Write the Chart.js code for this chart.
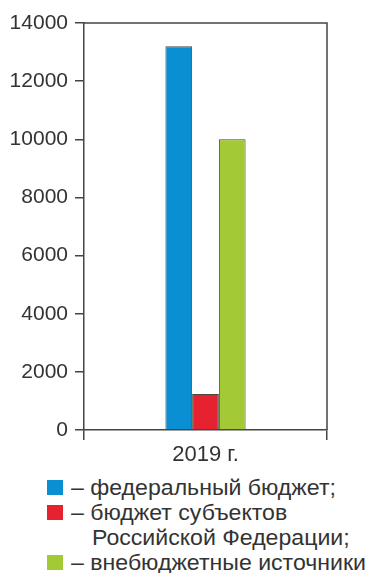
<!DOCTYPE html>
<html>
<head>
<meta charset="utf-8">
<script src="https://cdn.jsdelivr.net/npm/chart.js@4"></script>
<style>
  html, body { margin: 0; padding: 0; background: #fff; }
  #wrap { position: relative; width: 367px; height: 573px; overflow: hidden; background: #fff; }
  #box { position: absolute; left: 0; top: 0; width: 367px; height: 470px; }
  #legend { position: absolute; left: 0; top: 475px; width: 440px;
    font-family: 'Liberation Sans', Arial, sans-serif; font-size: 22px; line-height: 25px; color: #333; }
  .row { position: relative; padding-left: 71px; white-space: nowrap; height: 25px; }
  .row.cont { padding-left: 92px; }
  .row .t { display: inline-block; transform: scaleX(1.05); transform-origin: 0 50%; }
  .sw { position: absolute; left: 47px; top: 5px; width: 16px; height: 15px; }
</style>
</head>
<body>
<div id="wrap">
  <div id="box"><canvas id="c"></canvas></div>
  <div id="legend"></div>
</div>
<script>
// Funding sources, 2019
const categories = ['2019 г.'];
const federalBudget = [13200];
const regionalBudget = [1240];
const extraBudgetary = [10000];
const yTicks = [0, 2000, 4000, 6000, 8000, 10000, 12000, 14000];

const seriesNames = ['– федеральный бюджет;', '– бюджет субъектов', '– внебюджетные источники'];
const colors = ['#0b8fd3', '#e62230', '#a3c935'];

// Top and right frame of the plot area
const frame = {
  id: 'frame',
  afterDraw(chart) {
    const { ctx, chartArea: a } = chart;
    ctx.save();
    ctx.strokeStyle = '#444';
    ctx.lineWidth = 1.5;
    ctx.beginPath();
    ctx.moveTo(a.left, a.top);
    ctx.lineTo(a.right, a.top);
    ctx.lineTo(a.right, a.bottom);
    ctx.stroke();
    ctx.restore();
  }
};

const family = "'Liberation Sans', Arial, sans-serif";

new Chart(document.getElementById('c'), {
  type: 'bar',
  data: {
    labels: categories,
    datasets: [
      { label: seriesNames[0], data: federalBudget, backgroundColor: colors[0] },
      { label: seriesNames[1], data: regionalBudget, backgroundColor: colors[1] },
      { label: seriesNames[2], data: extraBudgetary, backgroundColor: colors[2] }
    ].map(d => Object.assign(d, { borderColor: '#4a4a40', borderWidth: 1, categoryPercentage: 0.33, barPercentage: 1 }))
  },
  options: {
    responsive: true,
    maintainAspectRatio: false,
    animation: false,
    layout: { padding: { top: 23, right: 40, left: 0, bottom: 0 } },
    plugins: { legend: { display: false }, tooltip: { enabled: false } },
    scales: {
      x: {
        afterFit(s) { s.height = 40; },
        grid: { drawOnChartArea: false, drawTicks: true, tickLength: 10, color: '#444', lineWidth: 1.5 },
        border: { display: true, color: '#444', width: 1.5 },
        ticks: { color: '#333', font: { family, size: 22 }, padding: 2 }
      },
      y: {
        min: 0,
        max: 14000,
        afterFit(s) { s.width = 84; },
        afterBuildTicks(s) { s.ticks = yTicks.map(v => ({ value: v })); },
        grid: { drawOnChartArea: false, drawTicks: true, tickLength: 9, color: '#444', lineWidth: 1.5 },
        border: { display: true, color: '#444', width: 1.5 },
        ticks: { color: '#333', font: { family, size: 21 }, padding: 7, callback: v => String(v) }
      }
    }
  },
  plugins: [frame]
});

// Legend below the chart
const legend = document.getElementById('legend');
const rows = [
  { sw: colors[0], text: seriesNames[0] },
  { sw: colors[1], text: seriesNames[1] },
  { sw: null, text: 'Российской Федерации;' },
  { sw: colors[2], text: seriesNames[2] }
];
rows.forEach(r => {
  const div = document.createElement('div');
  div.className = 'row' + (r.sw ? '' : ' cont');
  if (r.sw) {
    const s = document.createElement('span');
    s.className = 'sw';
    s.style.background = r.sw;
    div.appendChild(s);
  }
  const t = document.createElement('span');
  t.className = 't';
  t.textContent = r.text;
  div.appendChild(t);
  legend.appendChild(div);
});
</script>
</body>
</html>
